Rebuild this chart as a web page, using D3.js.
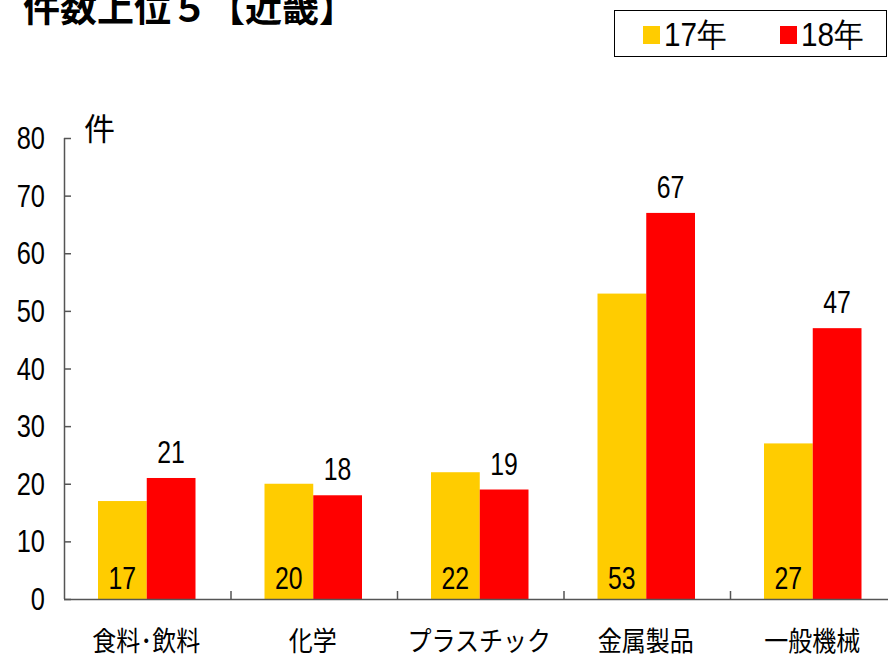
<html>
  <head>
    <meta charset="UTF-8">
    <script src="https://cdn.jsdelivr.net/npm/d3@7/dist/d3.min.js"></script>
    <style>
      body { margin: 0; background: #fff; }
      .num { font-family: "Liberation Sans", Arial, sans-serif; }
      .jp { font-family: "Noto Sans CJK JP", sans-serif; }
    </style>
  </head>
  <body>
    <svg width="888" height="658"></svg>

    <script type="text/javascript">
      // data
      var categories = ['食料･飲料', '化学', 'プラスチック', '金属製品', '一般機械'];
      var series = ['17年', '18年'];
      var values17 = [17, 20, 22, 53, 27];
      var values18 = [21, 18, 19, 67, 47];
      var yTicks = [0, 10, 20, 30, 40, 50, 60, 70, 80];
      var colors = ['#FFCC00', '#FF0000'];

      var svg = d3.select('svg');

      // plot area
      var plotLeft = 64, plotTop = 138, plotBottom = 599, band = 166.5;
      var x = d3.scaleBand()
        .domain(categories)
        .range([plotLeft, plotLeft + band * categories.length])
        .paddingInner(0).paddingOuter(0);
      var y = d3.scaleLinear().domain([0, 80]).range([plotBottom, plotTop]);
      var inner = d3.scaleBand().domain(series).range([34, band - 35]);

      // narrow text: place at (x, y) and squeeze horizontally
      function narrow(sel, sx) {
        return sel.attr('transform', function() {
          var t = d3.select(this);
          var tx = +t.attr('x'), ty = +t.attr('y');
          t.attr('x', 0).attr('y', 0);
          return 'translate(' + tx + ',' + ty + ') scale(' + sx + ',1)';
        });
      }

      // title (cut off at the top like the original)
      svg.append('text')
        .attr('class', 'jp')
        .attr('x', 23).attr('y', 22)
        .style('font-size', '37px').style('font-weight', 'bold')
        .text('件数上位５【近畿】');

      // legend
      svg.append('rect')
        .attr('x', 614.5).attr('y', 10.5).attr('width', 272).attr('height', 46)
        .attr('fill', '#fff').attr('stroke', '#000').attr('stroke-width', 1);
      var lg = svg.selectAll('.lg').data(series).enter().append('g')
        .attr('transform', function(d, i) { return 'translate(' + (643 + i * 137) + ',0)'; });
      lg.append('rect')
        .attr('x', 0).attr('y', 26).attr('width', 17).attr('height', 18)
        .attr('fill', function(d, i) { return colors[i]; });
      lg.append('text')
        .attr('class', 'num')
        .attr('x', 21).attr('y', 46)
        .style('font-size', '33px')
        .text(function(d) { return d; })
        .call(narrow, 0.9);

      // bars
      var groups = svg.selectAll('.cat').data(categories).enter().append('g')
        .attr('transform', function(d) { return 'translate(' + x(d) + ',0)'; });
      groups.append('rect')
        .attr('x', inner('17年')).attr('width', inner.bandwidth())
        .attr('y', function(d, i) { return y(values17[i]); })
        .attr('height', function(d, i) { return plotBottom - y(values17[i]); })
        .attr('fill', colors[0]);
      groups.append('rect')
        .attr('x', inner('18年')).attr('width', inner.bandwidth())
        .attr('y', function(d, i) { return y(values18[i]); })
        .attr('height', function(d, i) { return plotBottom - y(values18[i]); })
        .attr('fill', colors[1]);

      // value labels
      groups.append('text')
        .attr('class', 'num')
        .attr('x', inner('17年') + inner.bandwidth() / 2).attr('y', 589)
        .attr('text-anchor', 'middle').style('font-size', '31px')
        .text(function(d, i) { return values17[i]; })
        .call(narrow, 0.8);
      groups.append('text')
        .attr('class', 'num')
        .attr('x', inner('18年') + inner.bandwidth() / 2)
        .attr('y', function(d, i) { return y(values18[i]) - 15; })
        .attr('text-anchor', 'middle').style('font-size', '31px')
        .text(function(d, i) { return values18[i]; })
        .call(narrow, 0.8);

      // y axis
      var yAxis = d3.axisRight(y).tickValues(yTicks).tickSize(7).tickFormat('');
      var ya = svg.append('g').attr('transform', 'translate(' + plotLeft + ',0)').call(yAxis);
      ya.select('.domain').attr('d', 'M0.5,' + plotTop + 'V' + plotBottom);
      ya.selectAll('line, path').attr('stroke', '#555').attr('stroke-width', 1.5);
      svg.selectAll('.ytl').data(yTicks).enter().append('text')
        .attr('class', 'num')
        .attr('x', 45).attr('y', function(d) { return y(d) + 11; })
        .attr('text-anchor', 'end').style('font-size', '31px')
        .text(function(d) { return d; })
        .call(narrow, 0.82);

      // unit
      svg.append('text')
        .attr('class', 'jp')
        .attr('x', 84).attr('y', 140)
        .style('font-size', '31px')
        .text('件');

      // x axis
      var xa = svg.append('g');
      xa.append('line')
        .attr('x1', plotLeft).attr('x2', 888).attr('y1', plotBottom + 0.5).attr('y2', plotBottom + 0.5)
        .attr('stroke', '#555').attr('stroke-width', 1.5);
      xa.selectAll('.xt').data(categories.slice(1)).enter().append('line')
        .attr('x1', function(d) { return x(d) + 0.5; })
        .attr('x2', function(d) { return x(d) + 0.5; })
        .attr('y1', plotBottom).attr('y2', plotBottom - 8)
        .attr('stroke', '#555').attr('stroke-width', 1.5);
      xa.selectAll('.xl').data(categories).enter().append('text')
        .attr('class', 'jp')
        .attr('x', function(d) { return x(d) + band / 2 - 1; })
        .attr('y', 651)
        .attr('text-anchor', 'middle').style('font-size', '27px')
        .text(function(d) { return d; })
        .call(narrow, 0.89);
    </script>
  </body>
</html>
